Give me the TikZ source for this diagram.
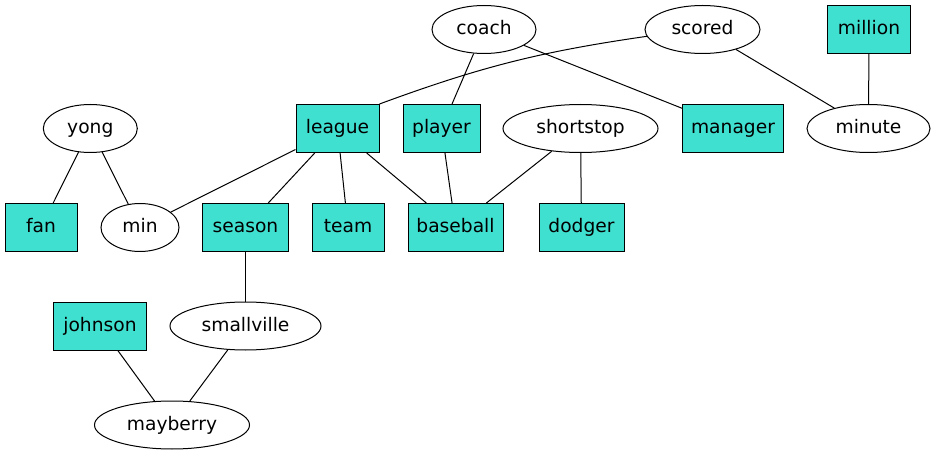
\documentclass[tikz,border=0pt]{standalone}
\usepackage{fontspec}
\setmainfont{DejaVu Sans}
\usetikzlibrary{shapes.geometric}
\definecolor{turq}{HTML}{40E0D0}
\tikzset{
  box/.style={draw, fill=turq, rectangle, inner sep=0pt, minimum height=36pt,
    text height=10.5pt, text depth=2.5pt},
  oval/.style={draw, ellipse, inner sep=0pt, minimum height=36pt,
    text height=10.5pt, text depth=2.5pt}
}
\begin{document}
\begin{tikzpicture}[x=0.75pt, y=-0.75pt, line width=0.75pt, font=\fontsize{14pt}{16pt}\selectfont]
\useasboundingbox (0,0) rectangle (936,456);
% row 1
\node[oval, minimum width=78pt] (coach) at (484, 29.5) {coach};
\node[oval, minimum width=86.25pt] (scored) at (702.5, 29.5) {scored};
\node[box, minimum width=62.25pt] (million) at (869, 29.5) {million};
% row 2
\node[oval, minimum width=70.5pt] (yong) at (90.3, 128.5) {yong};
\node[box, minimum width=62.25pt] (league) at (337.5, 128.5) {league};
\node[box, minimum width=57.75pt] (player) at (441.5, 128.5) {player};
\node[oval, minimum width=116.25pt] (shortstop) at (580.5, 128.5) {shortstop};
\node[box, minimum width=75.75pt] (manager) at (733, 128.5) {manager};
\node[oval, minimum width=92.25pt] (minute) at (868.5, 128.5) {minute};
% row 3
\node[box, minimum width=54pt] (fan) at (41, 227.5) {fan};
\node[oval, minimum width=58.5pt] (min) at (140, 227.5) {min};
\node[box, minimum width=64.5pt] (season) at (245.5, 227.5) {season};
\node[box, minimum width=54pt] (team) at (348, 227.5) {team};
\node[box, minimum width=71.25pt] (baseball) at (455.5, 227.5) {baseball};
\node[box, minimum width=63.75pt] (dodger) at (581.5, 227.5) {dodger};
% row 4 and 5
\node[box, minimum width=69.75pt] (johnson) at (100, 326) {johnson};
\node[oval, minimum width=113.25pt] (smallville) at (245.5, 326) {smallville};
\node[oval, minimum width=116.25pt] (mayberry) at (172, 425) {mayberry};
% edges
\foreach \a/\b in {coach/player, coach/manager, scored/minute,
  million/minute, yong/fan, yong/min, league/min, league/season, league/team,
  league/baseball, player/baseball, shortstop/baseball, shortstop/dodger,
  season/smallville, johnson/mayberry, smallville/mayberry}
  \draw (\a) -- (\b);
\draw (scored) to[bend right=6] (league.north east);
\end{tikzpicture}
\end{document}
